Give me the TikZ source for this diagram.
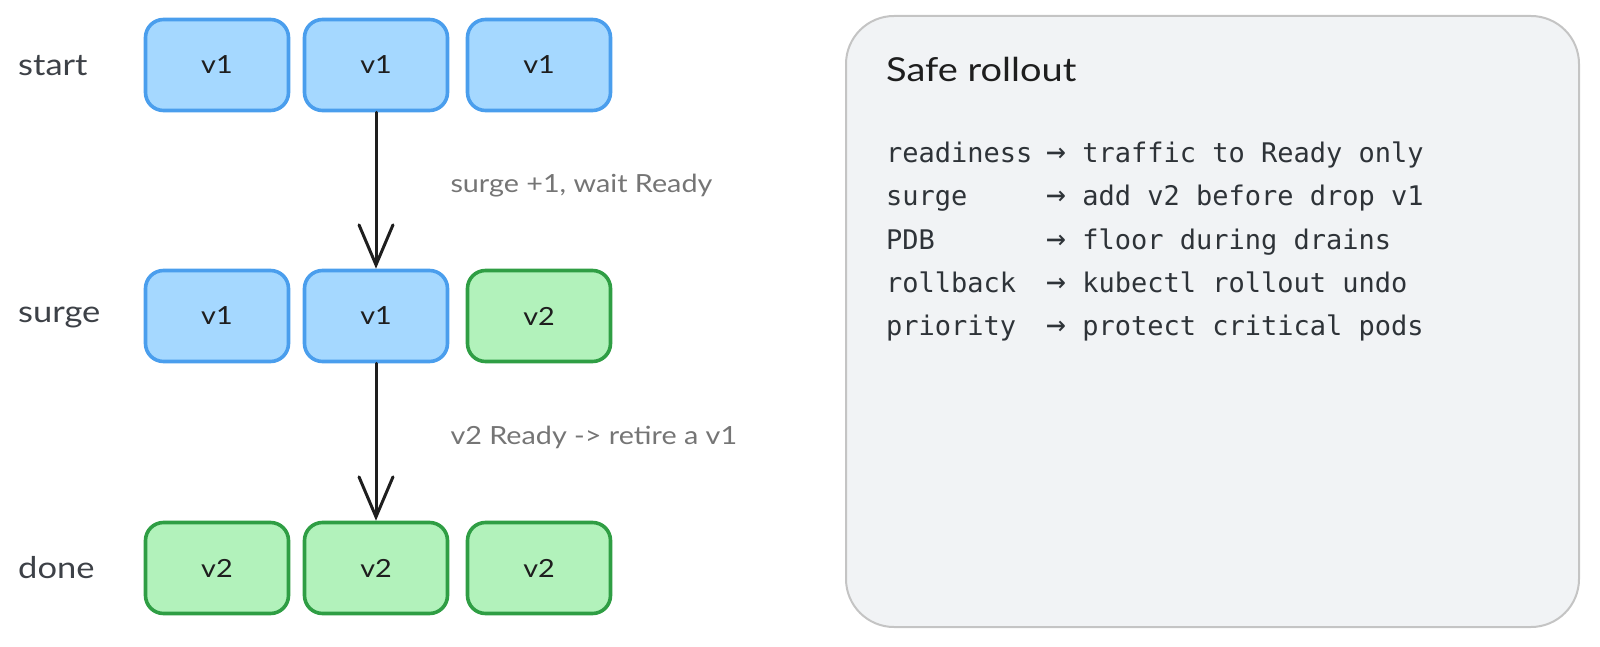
\documentclass[tikz,border=0pt]{standalone}
\usepackage{fontspec}
\setmainfont{Lato}
\newfontfamily\hand[FakeStretch=1.15]{Lato}
\newfontfamily\mono{DejaVu Sans Mono}
\newcommand{\rarr}{{\fontsize{33}{32}\selectfont→}}
\usetikzlibrary{arrows.meta}
\definecolor{bluefill}{HTML}{A5D8FF}
\definecolor{bluestroke}{HTML}{4A9EED}
\definecolor{greenfill}{HTML}{B2F2BB}
\definecolor{greenstroke}{HTML}{2F9E44}
\definecolor{ink}{HTML}{1E1E1E}
\definecolor{rowlab}{HTML}{3D4147}
\definecolor{edgelab}{HTML}{757575}
\definecolor{panelfill}{HTML}{F1F3F5}
\definecolor{panelstroke}{HTML}{C4C4C4}
\definecolor{monoink}{HTML}{2E3338}
\begin{document}
\begin{tikzpicture}[x=1pt,y=-1pt,
  pod/.style={rounded corners=18pt, minimum width=143pt, minimum height=91pt,
    line width=3.6pt, inner sep=0pt, text=ink, font=\hand\fontsize{25}{28}\selectfont},
  oldpod/.style={pod, draw=bluestroke, fill=bluefill},
  newpod/.style={pod, draw=greenstroke, fill=greenfill},
  rowlabel/.style={anchor=west, inner sep=0pt, text=rowlab, font=\hand\fontsize{30}{34}\selectfont},
  edgelabel/.style={anchor=west, inner sep=0pt, text=edgelab, font=\hand\fontsize{25}{30}\selectfont},
  flow/.style={line width=3pt, draw=ink, line cap=round,
    -{Straight Barb[length=40pt, width=34pt, line width=3pt, line cap=round]}},
  panelbox/.style={draw=panelstroke, fill=panelfill, line width=2pt, rounded corners=48pt,
    minimum width=733pt, minimum height=611pt, inner sep=0pt},
  monorow/.style={anchor=west, inner sep=0pt, text=monoink, text height=20pt, text depth=6pt,
    font=\mono\fontsize{27}{32}\selectfont},
]
\useasboundingbox (0,0) rectangle (1600,647);

% row labels
\node[rowlabel] (lstart) at (18,66) {start};
\node[rowlabel] (lsurge) at (18,318) {surge};
\node[rowlabel] (ldone)  at (18,568) {done};

% row 1
\node[oldpod] (b11) at (217,65) {v1};
\node[oldpod] (b12) at (376,65) {v1};
\node[oldpod] (b13) at (539,65) {v1};
% row 2
\node[oldpod] (b21) at (217,316) {v1};
\node[oldpod] (b22) at (376,316) {v1};
\node[newpod] (b23) at (539,316) {v2};
% row 3
\node[newpod] (b31) at (217,568) {v2};
\node[newpod] (b32) at (376,568) {v2};
\node[newpod] (b33) at (539,568) {v2};

% connectors
\draw[flow] (b12.south) -- node[edgelabel, pos=0.47, xshift=73pt] (e1) {surge +1, wait Ready} (b22.north);
\draw[flow] (b22.south) -- node[edgelabel, pos=0.47, xshift=73pt] (e2) {v2 Ready -> retire a v1} (b32.north);

% panel
\node[panelbox] (panel) at (1212.5,321.5) {};
\node[anchor=west, inner sep=0pt, text=ink, font=\hand\fontsize{33}{38}\selectfont] (title) at (886,69) {Safe rollout};

\node[monorow] (k1) at (886,156) {readiness};
\node[monorow] (k2) at (886,199) {surge};
\node[monorow] (k3) at (886,242) {PDB};
\node[monorow] (k4) at (886,285) {rollback};
\node[monorow] (k5) at (886,328) {priority};

\node[monorow] (v1) at (1046,156) {\rarr\ traffic to Ready only};
\node[monorow] (v2) at (1046,199) {\rarr\ add v2 before drop v1};
\node[monorow] (v3) at (1046,242) {\rarr\ floor during drains};
\node[monorow] (v4) at (1046,285) {\rarr\ kubectl rollout undo};
\node[monorow] (v5) at (1046,328) {\rarr\ protect critical pods};
\end{tikzpicture}
\end{document}
